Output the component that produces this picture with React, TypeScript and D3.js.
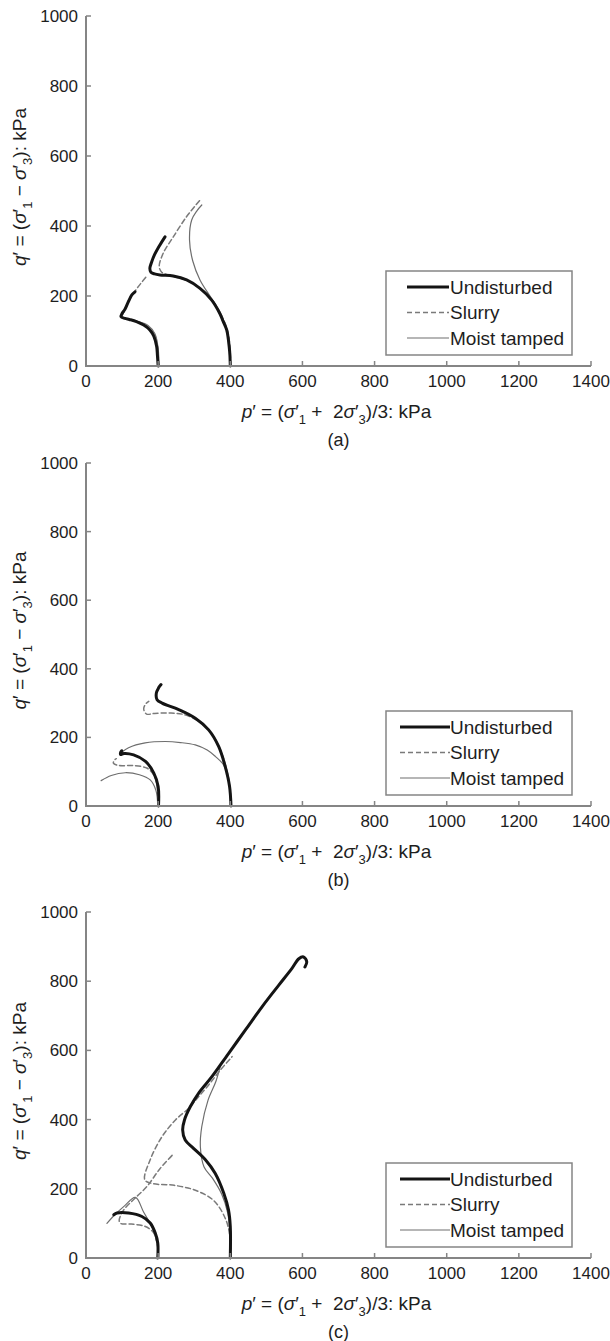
import React from 'react';
import * as d3 from 'd3';

type Pt = [number, number];

const xTicks = [0, 200, 400, 600, 800, 1000, 1200, 1400];
const yTicks = [0, 200, 400, 600, 800, 1000];
const seriesNames = ['Undisturbed', 'Slurry', 'Moist tamped'];
const captions = ['(a)', '(b)', '(c)'];

// (a)
const aUndInner: Pt[] = [[200, 0], [198, 30], [196, 55], [188, 85], [177, 103], [160, 117], [140, 127], [120, 133], [108, 136], [97, 141], [100, 150], [108, 162], [118, 185], [127, 203], [136, 212]];
const aUndOuter: Pt[] = [[400, 0], [399, 30], [397, 55], [390, 103], [380, 128], [371, 150], [348, 189], [316, 222], [279, 246], [242, 257], [205, 260], [190, 263], [180, 268], [177, 279], [182, 297], [190, 318], [205, 346], [219, 369]];
const aSlurryInner: Pt[] = [[201, 0], [199, 50], [190, 90], [172, 112], [145, 126], [115, 134], [99, 140], [104, 152], [116, 180], [127, 201], [140, 220], [152, 236], [166, 254]];
const aSlurryOuter: Pt[] = [[401, 0], [399, 55], [392, 103], [373, 150], [350, 188], [318, 221], [281, 244], [245, 255], [225, 261], [210, 268], [203, 284], [214, 322], [242, 369], [279, 427], [303, 458], [316, 474]];
const aMoistInner: Pt[] = [[202, 0], [200, 50], [191, 92], [172, 116], [142, 128], [112, 135], [100, 140]];
const aMoistOuter: Pt[] = [[400, 0], [398, 55], [391, 103], [373, 150], [348, 193], [316, 246], [296, 300], [287, 360], [293, 417], [308, 444], [321, 460]];

// (b)
const bUndInner: Pt[] = [[201, 0], [200, 57], [188, 96], [165, 130], [132, 149], [105, 153], [96, 150], [96, 156], [99, 161]];
const bUndOuter: Pt[] = [[402, 0], [398, 57], [386, 115], [368, 173], [340, 222], [303, 256], [257, 281], [211, 300], [197, 310], [195, 329], [201, 344], [208, 354]];
const bSlurryInner: Pt[] = [[200, 0], [198, 50], [189, 88], [170, 110], [130, 118], [92, 118], [76, 125], [79, 134], [84, 138]];
const bSlurryOuter: Pt[] = [[401, 0], [399, 55], [389, 110], [372, 165], [346, 214], [311, 248], [270, 267], [230, 271], [190, 270], [168, 268], [160, 283], [166, 298], [174, 305]];
const bMoistInner: Pt[] = [[42, 74], [70, 89], [109, 97], [148, 91], [178, 76], [194, 45], [199, 0]];
const bMoistOuter: Pt[] = [[95, 154], [118, 170], [164, 184], [220, 188], [262, 185], [303, 178], [336, 163], [359, 144], [380, 122], [393, 90], [399, 45], [400, 0]];

// (c)
const cUndInner: Pt[] = [[199, 0], [199, 43], [192, 72], [178, 101], [155, 120], [118, 130], [86, 130], [77, 125]];
const cUndOuter: Pt[] = [[400, 0], [400, 91], [395, 139], [382, 187], [358, 245], [331, 284], [298, 317], [275, 341], [268, 370], [273, 399], [289, 437], [312, 476], [349, 524], [395, 591], [442, 659], [488, 726], [534, 788], [571, 837], [590, 865], [603, 870], [612, 856], [607, 841]];
const cSlurryInner: Pt[] = [[201, 0], [197, 45], [186, 75], [162, 92], [125, 98], [96, 100], [92, 108], [104, 138], [138, 175], [170, 208], [205, 258], [240, 298]];
const cSlurryOuter: Pt[] = [[401, 0], [399, 60], [388, 110], [355, 165], [305, 195], [245, 210], [185, 215], [163, 226], [178, 284], [211, 351], [248, 399], [285, 433], [312, 466], [340, 500], [370, 540], [405, 582]];
const cMoistInner: Pt[] = [[58, 100], [80, 125], [106, 150], [137, 175], [160, 132], [184, 87], [197, 42], [200, 0]];
const cMoistOuter: Pt[] = [[401, 0], [400, 60], [393, 130], [376, 185], [351, 230], [327, 264], [317, 322], [321, 380], [338, 455], [360, 510], [372, 553]];

const panelData = [
  { und: [aUndInner, aUndOuter], slurry: [aSlurryInner, aSlurryOuter], moist: [aMoistInner, aMoistOuter] },
  { und: [bUndInner, bUndOuter], slurry: [bSlurryInner, bSlurryOuter], moist: [bMoistInner, bMoistOuter] },
  { und: [cUndInner, cUndOuter], slurry: [cSlurryInner, cSlurryOuter], moist: [cMoistInner, cMoistOuter] },
];

const panelBox = [
  { top: 16, bottom: 366, legLine: [407, 449] },
  { top: 463, bottom: 806, legLine: [400, 450] },
  { top: 912, bottom: 1258, legLine: [400, 450] },
];

const font = "'Liberation Sans', Arial, sans-serif";
const axisColor = '#858585';
const textColor = '#1e1e1e';
const styles = {
  und: { stroke: '#141414', width: 3, dash: null as string | null },
  slurry: { stroke: '#7a7a7a', width: 1.5, dash: '5,3' },
  moist: { stroke: '#6e6e6e', width: 1.2, dash: null as string | null },
};

const it = (s: string) => <tspan fontStyle="italic">{s}</tspan>;

// subscripts are lowered with dy and the next piece raised back
const XLabel = () => (
  <>
    {it('p')}<tspan>′ = (</tspan>{it('σ')}<tspan>′</tspan>
    <tspan dy={6} fontSize={13}>1</tspan>
    <tspan dy={-6}>{'\u00a0+\u00a0\u00a02'}</tspan>{it('σ')}<tspan>′</tspan>
    <tspan dy={6} fontSize={13}>3</tspan>
    <tspan dy={-6}>)/3: kPa</tspan>
  </>
);

const YLabel = () => (
  <>
    {it('q')}<tspan>′ = (</tspan>{it('σ')}<tspan>′</tspan>
    <tspan dy={6} fontSize={13}>1</tspan>
    <tspan dy={-6}>{'\u00a0\u2212\u00a0'}</tspan>{it('σ')}<tspan>′</tspan>
    <tspan dy={6} fontSize={13}>3</tspan>
    <tspan dy={-6}>): kPa</tspan>
  </>
);

const Panel = ({ idx }: { idx: number }) => {
  const box = panelBox[idx];
  const data = panelData[idx];
  const x = d3.scaleLinear().domain([0, 1400]).range([86, 591]);
  const y = d3.scaleLinear().domain([0, 1000]).range([box.bottom, box.top]);
  const line = d3.line<Pt>().x(d => x(d[0])).y(d => y(d[1])).curve(d3.curveCatmullRom.alpha(0.5));
  const cx = (86 + 591) / 2;
  const cy = (box.top + box.bottom) / 2;
  const order: ('moist' | 'slurry' | 'und')[] = ['moist', 'slurry', 'und'];
  const legKeys: ('und' | 'slurry' | 'moist')[] = ['und', 'slurry', 'moist'];
  const b = box.bottom;

  return (
    <g>
      {order.map(k => data[k].map((pts, i) => (
        <path key={k + i} d={line(pts) || ''} fill="none" stroke={styles[k].stroke}
          strokeWidth={styles[k].width} strokeDasharray={styles[k].dash || undefined}
          strokeLinejoin="round" strokeLinecap="round" />
      )))}

      {/* axes */}
      <path d={`M${x(0)},${y(1000)}V${y(0)}H${x(1400)}`} fill="none" stroke={axisColor} strokeWidth={2} />
      {xTicks.map(t => (
        <g key={'x' + t}>
          <line x1={x(t)} x2={x(t)} y1={y(0)} y2={y(0) - 5} stroke={axisColor} strokeWidth={1.5} />
          <text x={x(t)} y={y(0) + 21} textAnchor="middle" fontSize={17} fontFamily={font} fill={textColor}>{t}</text>
        </g>
      ))}
      {yTicks.map(t => (
        <g key={'y' + t}>
          <line x1={x(0)} x2={x(0) + 5} y1={y(t)} y2={y(t)} stroke={axisColor} strokeWidth={1.5} />
          <text x={78} y={y(t) + 6} textAnchor="end" fontSize={17} fontFamily={font} fill={textColor}>{t}</text>
        </g>
      ))}

      <text x={cx - 2} y={b + 52} textAnchor="middle" fontSize={19} fontFamily={font} fill={textColor}><XLabel /></text>
      <text x={cx} y={b + 80} textAnchor="middle" fontSize={18} fontFamily={font} fill={textColor}>{captions[idx]}</text>
      <text transform={`translate(26,${cy - 4}) rotate(-90)`} textAnchor="middle" fontSize={19} fontFamily={font} fill={textColor}>
        <YLabel />
      </text>

      {/* legend */}
      <rect x={386} y={b - 95} width={186} height={84} fill="#fff" stroke={axisColor} strokeWidth={1.5} />
      {legKeys.map((k, i) => {
        const ly = b - 79 + i * 25.5;
        return (
          <g key={k}>
            <line x1={box.legLine[0]} x2={box.legLine[1]} y1={ly} y2={ly} stroke={styles[k].stroke}
              strokeWidth={styles[k].width} strokeDasharray={styles[k].dash || undefined} />
            <text x={450} y={ly + 6.5} fontSize={19} fontFamily={font} fill={textColor}>{seriesNames[i]}</text>
          </g>
        );
      })}
    </g>
  );
};

export default function App() {
  return (
    <svg width={610} height={1341} style={{ position: 'absolute', left: 0, top: 0, background: '#fff' }}>
      {[0, 1, 2].map(i => <Panel key={i} idx={i} />)}
    </svg>
  );
}
